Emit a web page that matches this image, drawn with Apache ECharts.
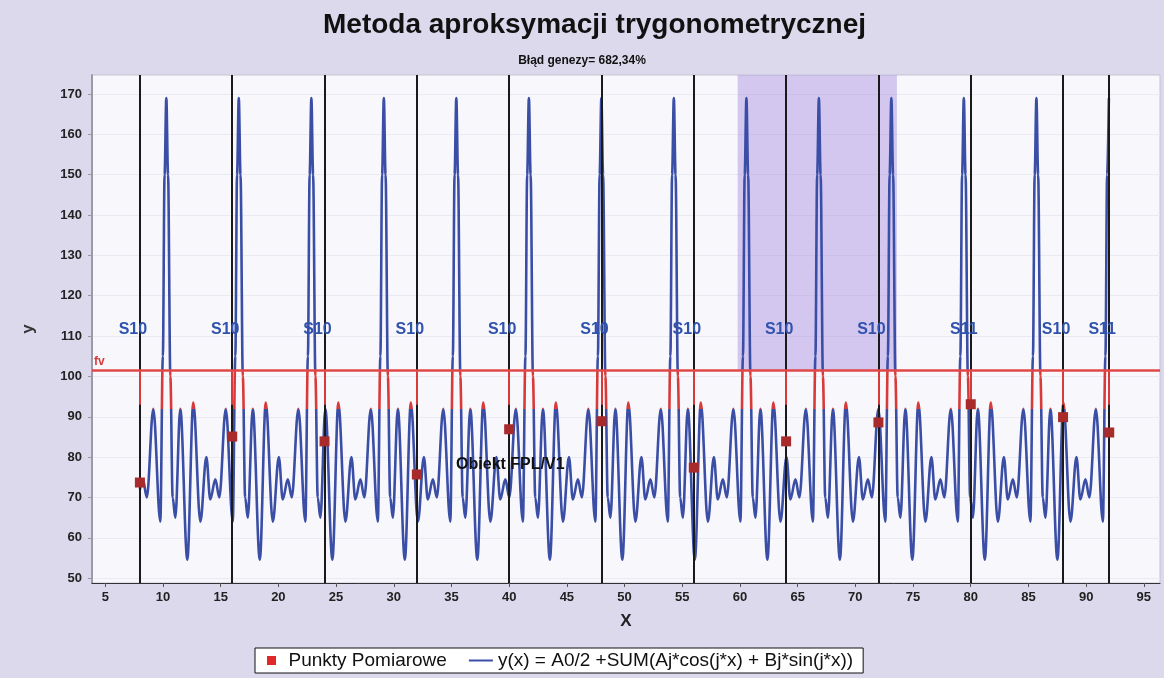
<!DOCTYPE html>
<html><head><meta charset="utf-8">
<script src="https://cdn.jsdelivr.net/npm/echarts@6/dist/echarts.min.js"></script>
<style>html,body{margin:0;padding:0;background:#dcd9ec}#c{width:1164px;height:678px}</style>
</head><body><div id="c"></div>
<script>
// ---- data ----
const titleText = 'Metoda aproksymacji trygonometrycznej';
const subtitleText = 'Błąd genezy= 682,34%';
const xTicks = [5,10,15,20,25,30,35,40,45,50,55,60,65,70,75,80,85,90,95];
const yTicks = [50,60,70,80,90,100,110,120,130,140,150,160,170];
const measX = [8,16,24,32,40,48,56,64,72,80,88,92];
const measY = [73.7,85.1,83.9,75.7,86.9,88.9,77.4,83.9,88.6,93.1,89.9,86.1];
const siteLabels = ['S10','S10','S10','S10','S10','S10','S10','S10','S10','S11','S10','S11'];
const siteLabelY = 111.5;
const fvLevel = 101.5;
const redBandLow = 92;
// one period of the fitted curve, offsets from the spike top (x units) and values
const periodOffsets = [-1.13,-0.52,-0.30,-0.15,0,0.15,0.35,0.55,0.78,1.21,1.82,2.34,2.95,3.47,3.81,4.25,4.59];
const periodValues  = [92,64,105,150,169,150,100,70,65,92,54.6,93.5,64,80,69.5,74.5,70];
// spike tops
const spikeCenters = [4.01,10.29,16.57,22.86,29.14,35.42,41.71,47.99,54.27,60.56,66.84,73.12,79.40,85.69,91.97];
const curveStart = [8, 72];
const curveEnd = 92;
const shadedRange = [59.8, 73.6];
const objectLabel = 'Obiekt FPL/V1';
const objectPos = [40.1, 78.2];
const xRange = [3.85, 96.4];
const yRange = [48.8, 174.7];
const lineName = 'y(x) = A0/2 +SUM(Aj*cos(j*x) + Bj*sin(j*x))';
const pointsName = 'Punkty Pomiarowe';

// ---- build ----
const curve = [curveStart.slice()];
spikeCenters.forEach(c => periodOffsets.forEach((o, i) => {
  const x = +(c + o).toFixed(3);
  if (x > curveStart[0] && x <= curveEnd) curve.push([x, periodValues[i]]);
}));
curve.sort((a, b) => a[0] - b[0]);

const BLUE = '#3b4ea6', RED = '#d83a3a';
const font = '"Liberation Sans", Arial, sans-serif';
const chart = echarts.init(document.getElementById('c'));
chart.setOption({
  backgroundColor: '#dcd9ec',
  animation: false,
  title: [
    {text: titleText, left: 318, top: 6, textStyle: {fontFamily: font, fontSize: 28, fontWeight: 'bold', color: '#111'}},
    {text: subtitleText, left: 'center', top: 50, textStyle: {fontFamily: font, fontSize: 12, fontWeight: 'bold', color: '#111'}}
  ],
  grid: {left: 92, right: 4, top: 75, bottom: 95, show: true, backgroundColor: '#f8f8fc', borderColor: '#c4c4d4', borderWidth: 1},
  legend: {
    top: 648, left: 255, orient: 'horizontal', backgroundColor: '#ffffff', borderColor: '#111', borderWidth: 1,
    padding: [3, 10, 3, 12], itemGap: 22, itemWidth: 24, itemHeight: 9,
    textStyle: {fontFamily: font, fontSize: 19, color: '#111'},
    data: [
      {name: pointsName, icon: 'path://M0 0H9V9H0Z', itemStyle: {color: '#e02828'}},
      {name: lineName, icon: 'path://M0 0H24V2H0Z', itemStyle: {color: BLUE}}
    ]
  },
  xAxis: {
    type: 'value', min: xRange[0], max: xRange[1],
    name: 'X', nameLocation: 'middle', nameGap: 30,
    nameTextStyle: {fontFamily: font, fontSize: 17, fontWeight: 'bold', color: '#222'},
    axisLine: {lineStyle: {color: '#333'}},
    axisTick: {show: true, length: 4, customValues: xTicks, lineStyle: {color: '#555'}},
    axisLabel: {customValues: xTicks, fontFamily: font, fontSize: 13, fontWeight: 'bold', color: '#222', margin: 8},
    splitLine: {show: false}
  },
  yAxis: {
    type: 'value', min: yRange[0], max: yRange[1],
    name: 'y', nameLocation: 'middle', nameGap: 55, nameRotate: 90,
    nameTextStyle: {fontFamily: font, fontSize: 17, fontWeight: 'bold', color: '#333'},
    axisLine: {show: true, lineStyle: {color: '#9a9aa8', width: 2}},
    axisTick: {show: true, length: 4, customValues: yTicks, lineStyle: {color: '#999'}},
    axisLabel: {customValues: yTicks, fontFamily: font, fontSize: 13, fontWeight: 'bold', color: '#222', margin: 10},
    splitLine: {show: true, lineStyle: {color: '#eaeaf2'}}
  },
  visualMap: {
    show: false, type: 'piecewise', seriesIndex: 1, dimension: 1,
    pieces: [{lt: redBandLow, color: BLUE}, {gte: redBandLow, lt: fvLevel, color: RED}, {gte: fvLevel, color: BLUE}]
  },
  series: [
    {
      type: 'line', data: [], silent: true, z: 1,
      markArea: {silent: true, itemStyle: {color: 'rgba(160,130,225,0.42)'},
        data: [[{xAxis: shadedRange[0], yAxis: fvLevel}, {xAxis: shadedRange[1], yAxis: yRange[1]}]]}
    },
    {
      name: lineName, type: 'line', data: curve, showSymbol: false, symbol: 'none',
      smooth: 0.35, smoothMonotone: 'x', z: 3,
      lineStyle: {width: 2.6}
    },
    {
      type: 'line', data: [], silent: true, z: 4,
      markLine: {
        silent: true, symbol: ['none', 'none'], label: {show: false},
        lineStyle: {color: '#1a1a1a', width: 2, type: 'solid'},
        data: measX.map(x => ({xAxis: x})).concat(
          measX.map(x => [{coord: [x, redBandLow + 1], lineStyle: {color: RED, width: 2, type: 'solid'}}, {coord: [x, fvLevel]}]))
      }
    },
    {
      type: 'line', data: [], silent: true, z: 5,
      markLine: {
        silent: true, symbol: ['none', 'none'],
        lineStyle: {color: '#e04848', width: 2.5, type: 'solid'},
        label: {show: true, position: 'insideStartTop', formatter: 'fv', color: RED, fontFamily: font, fontWeight: 'bold', fontSize: 12, distance: [2, 3]},
        data: [{yAxis: fvLevel}]
      }
    },
    {
      name: pointsName, type: 'scatter', symbol: 'rect', symbolSize: 10, z: 6,
      data: measX.map((x, i) => [x, measY[i]]),
      itemStyle: {color: '#a82a2a', opacity: 1}
    },
    {
      type: 'scatter', symbolSize: 0, silent: true, z: 7,
      data: measX.map((x, i) => [x, siteLabelY, siteLabels[i]]),
      itemStyle: {opacity: 1},
      label: {show: true, position: 'inside', offset: [-7, 0], formatter: p => p.data[2],
        color: '#2f52ad', fontFamily: font, fontWeight: 'bold', fontSize: 16}
    },
    {
      type: 'scatter', symbolSize: 0, silent: true, z: 7,
      data: [[objectPos[0], objectPos[1], objectLabel]],
      itemStyle: {opacity: 1},
      label: {show: true, position: 'inside', formatter: p => p.data[2],
        color: '#111', fontFamily: font, fontWeight: 'bold', fontSize: 16}
    }
  ]
});
</script>
</body></html>
